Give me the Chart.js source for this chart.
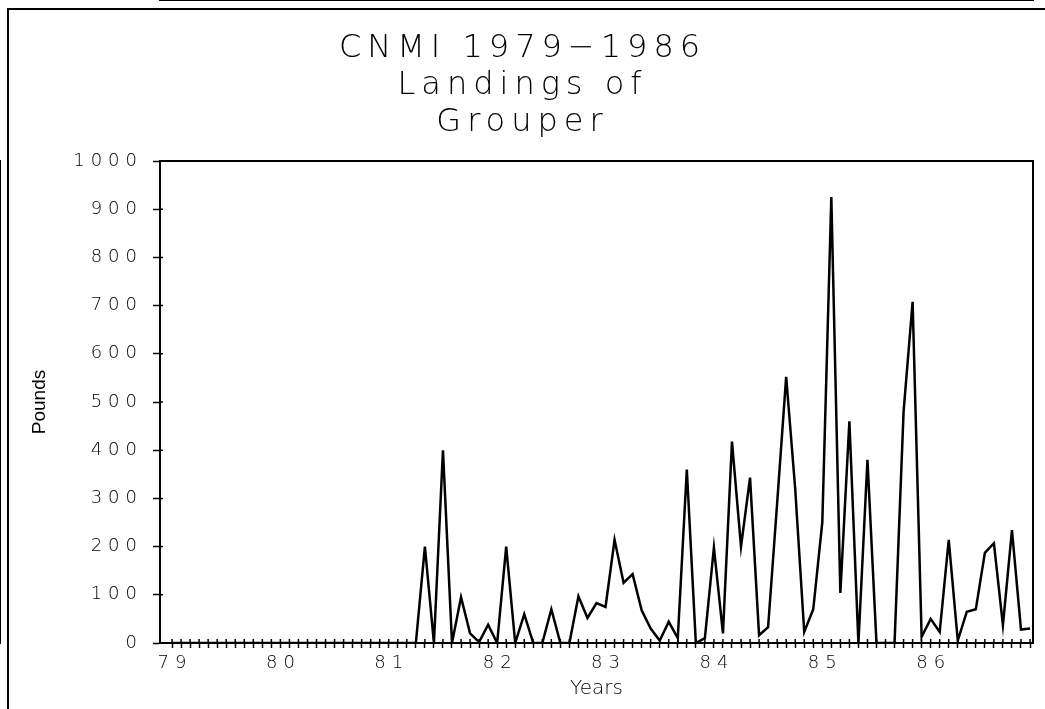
<!DOCTYPE html>
<html>
<head>
<meta charset="utf-8">
<script src="https://cdn.jsdelivr.net/npm/chart.js@4.4.0/dist/chart.umd.min.js"></script>
<style>
    html, body { margin: 0; padding: 0; background: #fff; }
    .wrap { position: relative; width: 1045px; height: 709px; }
</style>
</head>
<body>
<div class="wrap">
    <canvas class="mychart"></canvas>
</div>
<script>
/*Dados - libras por mes*/
const yearLabels = ['79', '80', '81', '82', '83', '84', '85', '86']
const pounds79 = [0, 0, 0, 0, 0, 0, 0, 0, 0, 0, 0, 0]
const pounds80 = [0, 0, 0, 0, 0, 0, 0, 0, 0, 0, 0, 0]
const pounds81 = [0, 0, 0, 0, 200, 0, 400, 0, 95, 20, 2, 38]
const pounds82 = [0, 200, 0, 60, 0, 0, 70, 0, 0, 97, 52, 83]
const pounds83 = [75, 214, 125, 143, 68, 30, 5, 44, 10, 360, 0, 10]
const pounds84 = [198, 20, 418, 200, 343, 16, 33, 290, 552, 320, 23, 70]
const pounds85 = [250, 925, 104, 460, 0, 380, 0, 0, 0, 480, 708, 13]
const pounds86 = [50, 23, 214, 5, 65, 70, 187, 207, 37, 234, 28, 30]

const pounds = [].concat(pounds79, pounds80, pounds81, pounds82, pounds83, pounds84, pounds85, pounds86)

let graf = document.querySelector(".mychart").getContext("2d")

const ink = '#000'
const plotter = 'DejaVu Sans'

/*moldura do grafico e espacamento das letras*/
const frame = {
    id: 'frame',
    beforeDraw: chart => {
        const ctx = chart.ctx
        // borda da folha
        ctx.save()
        ctx.strokeStyle = ink
        ctx.lineWidth = 2
        ctx.beginPath()
        ctx.moveTo(8, chart.height)
        ctx.lineTo(8, 9)
        ctx.lineTo(chart.width, 9)
        ctx.stroke()
        ctx.restore()
        ctx.letterSpacing = '6px'
    },
    afterDatasetsDraw: chart => {
        const {ctx, chartArea: a, scales} = chart
        ctx.save()
        ctx.strokeStyle = ink
        ctx.lineWidth = 2
        ctx.strokeRect(a.left, a.top, a.right - a.left, a.bottom - a.top)
        // parte de dentro das marcas "+"
        ctx.lineWidth = 1.5
        ctx.beginPath()
        scales.x.ticks.forEach(t => {
            if (t.value < 0) return
            const px = scales.x.getPixelForValue(t.value)
            ctx.moveTo(px, a.bottom)
            ctx.lineTo(px, a.bottom - 4)
        })
        scales.y.ticks.forEach(t => {
            const py = scales.y.getPixelForValue(t.value)
            ctx.moveTo(a.left, py)
            ctx.lineTo(a.left + 3, py)
        })
        ctx.stroke()
        ctx.restore()
        ctx.letterSpacing = '0px'
    },
    afterDraw: chart => {
        chart.ctx.letterSpacing = '0px'
    }
}

const config = {
    type: 'line',
    data: {
        datasets: [
            {
                label: 'Grouper',
                borderColor: ink,
                borderWidth: 2.5,
                pointRadius: 0,
                tension: 0,
                data: pounds.map((v, i) => ({x: i, y: v}))
            }
        ]
    },
    options: {
        responsive: true,
        maintainAspectRatio: false,
        animation: false,
        layout: {padding: {left: 12, right: 12, top: 0, bottom: 0}},
        plugins: {
            legend: {display: false},
            tooltip: {enabled: false},
            title: {
                display: true,
                text: ['CNMI 1979\u22121986', 'Landings of', 'Grouper'],
                color: ink,
                font: {family: plotter, size: 32, weight: 200, lineHeight: '37px'},
                padding: {top: 30, bottom: 20}
            }
        },
        scales: {
            x: {
                type: 'linear',
                min: -1.33,
                max: 95.33,
                border: {display: true, color: ink, width: 2},
                grid: {
                    drawOnChartArea: false,
                    tickLength: 5,
                    tickWidth: 1.5,
                    z: 1,
                    color: c => (c.tick && c.tick.value < 0) ? 'rgba(0,0,0,0)' : ink
                },
                ticks: {
                    stepSize: 1,
                    autoSkip: false,
                    includeBounds: false,
                    maxRotation: 0,
                    padding: 5,
                    labelOffset: 3,
                    color: ink,
                    font: {family: plotter, size: 18, weight: 200},
                    callback: v => v % 12 === 0 ? yearLabels[v / 12] : ''
                },
                title: {
                    display: true,
                    text: 'Years',
                    color: ink,
                    font: {family: plotter, size: 20, weight: 200},
                    padding: {top: 0, bottom: 8}
                },
                afterFit: s => { s.height = 66 }
            },
            y: {
                min: 0,
                max: 1000,
                border: {display: true, color: ink, width: 2},
                grid: {drawOnChartArea: false, tickLength: 7, tickWidth: 1.5, color: ink, z: 1},
                ticks: {
                    stepSize: 100,
                    padding: 10,
                    color: ink,
                    font: {family: plotter, size: 18, weight: 200},
                    callback: v => String(v)
                },
                title: {
                    display: true,
                    text: 'Pounds',
                    color: ink,
                    font: {family: 'Liberation Sans', size: 19},
                    padding: {top: 16, bottom: 0}
                },
                afterFit: s => { s.width = 148 }
            }
        }
    },
    plugins: [frame]
}

var myChart = new Chart(graf, config)
</script>
</body>
</html>
